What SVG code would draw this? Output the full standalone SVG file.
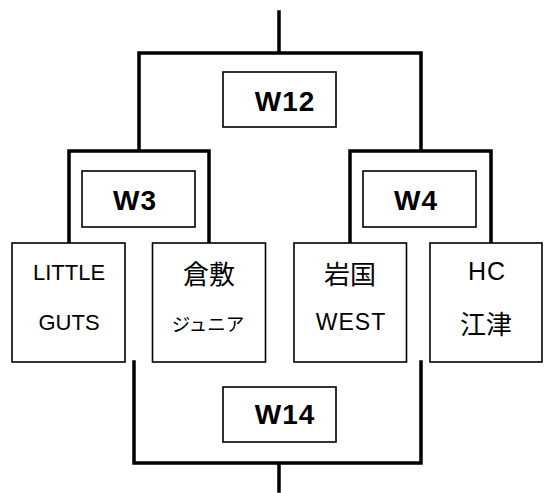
<svg xmlns="http://www.w3.org/2000/svg" width="544" height="493" viewBox="0 0 544 493">
<style>
.ln{fill:none;stroke:#000;stroke-width:3.5;stroke-linecap:square;stroke-linejoin:miter}
.bx{fill:#fff;stroke:#000;stroke-width:1.6}
.w{font-family:"Liberation Sans","Noto Sans CJK JP",sans-serif;font-weight:bold;font-size:28px;letter-spacing:1px;text-anchor:middle;fill:#000}
.t{font-family:"Liberation Sans","Noto Sans CJK JP",sans-serif;font-size:22px;text-anchor:middle;fill:#000}
.j{font-family:"Noto Sans CJK JP","Liberation Sans",sans-serif;font-size:26px;text-anchor:middle;fill:#000}
.k{font-family:"Noto Sans CJK JP","Liberation Sans",sans-serif;font-size:18.5px;text-anchor:middle;fill:#000}
</style>
<rect width="544" height="493" fill="#fff"/>
<g id="connectors">
<path class="ln" d="M279,12 V53 M139,150 V53 H421 V150"/>
<path class="ln" d="M69,242 V151 H209 V242"/>
<path class="ln" d="M350,242 V151 H491 V242"/>
<path class="ln" d="M134,362 V463 H421 V362 M279,463 V491"/>
</g>
<g id="W12"><rect class="bx" x="223" y="72" width="113" height="55"/><text class="w" x="285" y="111">W12</text></g>
<g id="W3"><rect class="bx" x="82" y="171" width="113" height="56"/><text class="w" x="135" y="210">W3</text></g>
<g id="W4"><rect class="bx" x="363" y="171" width="113" height="56"/><text class="w" x="416" y="210">W4</text></g>
<g id="W14"><rect class="bx" x="223" y="387" width="113" height="55"/><text class="w" x="285" y="424">W14</text></g>
<g id="team1"><rect class="bx" x="12" y="243" width="113" height="119"/><text class="t" x="69" y="280">LITTLE</text><text class="t" x="69" y="330">GUTS</text></g>
<g id="team2"><rect class="bx" x="152.5" y="243" width="113" height="119"/><text class="j" x="209" y="284">倉敷</text><text class="k" x="208" y="331">ジュニア</text></g>
<g id="team3"><rect class="bx" x="294" y="243" width="112.5" height="119"/><text class="j" x="350" y="284">岩国</text><text class="t" x="351" y="330" style="font-size:23px;letter-spacing:1px">WEST</text></g>
<g id="team4"><rect class="bx" x="430" y="243" width="112" height="119"/><text class="t" x="487" y="280" style="font-size:25px;letter-spacing:1px">HC</text><text class="j" x="486" y="334">江津</text></g>
</svg>
